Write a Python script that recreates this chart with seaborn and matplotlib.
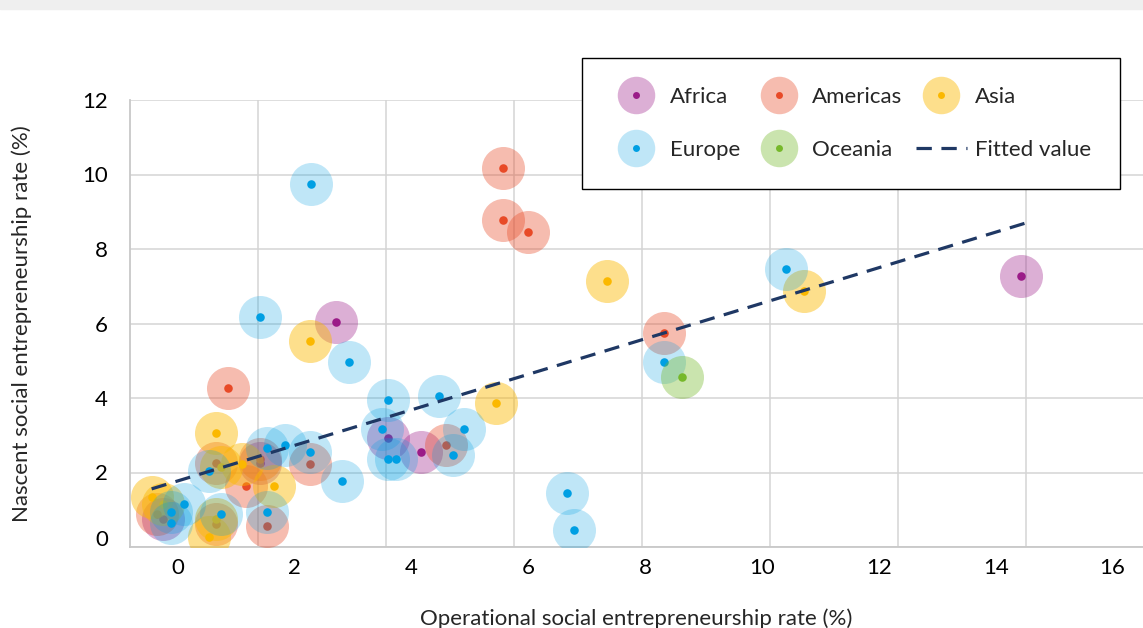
import numpy as np
import pandas as pd
import matplotlib
matplotlib.use("Agg")
import matplotlib.pyplot as plt
import matplotlib.transforms as mtransforms
import seaborn as sns
from matplotlib.lines import Line2D
from matplotlib.legend_handler import HandlerTuple
from matplotlib.patches import Rectangle
from matplotlib.ticker import FixedLocator

# values (operational rate x, nascent rate y)
africa_x = [2.71, 3.60, 4.16, 1.40, -0.26, 14.43]
africa_y = [6.04, 2.93, 2.55, 2.26, 0.75, 7.28]

americas_x = [5.57, 5.57, 5.99, 8.32, 0.86, 4.59, 2.26, 1.40, 0.65, 1.16, 1.52, 0.65, -0.36]
americas_y = [10.17, 8.78, 8.46, 5.74, 4.27, 2.74, 2.23, 2.36, 2.26, 1.64, 0.56, 0.62, 0.89]

asia_x = [7.35, 10.72, 2.26, 5.45, 0.65, 0.74, 1.10, 1.64, 0.53, -0.45, -0.26, 0.65]
asia_y = [7.14, 6.87, 5.53, 3.87, 3.06, 2.15, 2.23, 1.64, 0.27, 1.34, 1.15, 0.75]

europe_x = [2.28, 1.40, 2.93, 10.41, 8.32, 3.60, 4.47, 3.49, 4.90, 3.60, 3.73, 4.71,
            1.52, 1.83, 2.26, 0.53, 2.81, 6.66, 6.78, 1.52, 0.74, -0.12, 0.10, -0.12]
europe_y = [9.74, 6.17, 4.97, 7.46, 4.97, 3.95, 4.05, 3.17, 3.17, 2.36, 2.36, 2.47,
            2.66, 2.74, 2.55, 2.04, 1.77, 1.45, 0.46, 0.94, 0.89, 0.94, 1.15, 0.64]

oceania_x = [8.63]
oceania_y = [4.56]

fit_x = [-0.45, 14.55]
fit_slope = 0.477
fit_intercept = 1.775

regions = ["Africa", "Americas", "Asia", "Europe", "Oceania"]
dot_colors = {"Africa": "#9b1b88", "Americas": "#e84a27", "Asia": "#fbb800",
              "Europe": "#009fe3", "Oceania": "#76b82a"}
halo_alpha = {"Africa": 0.35, "Americas": 0.37, "Asia": 0.45,
              "Europe": 0.25, "Oceania": 0.38}

frames = []
for name, xs, ys in [("Africa", africa_x, africa_y), ("Americas", americas_x, americas_y),
                     ("Asia", asia_x, asia_y), ("Europe", europe_x, europe_y),
                     ("Oceania", oceania_x, oceania_y)]:
    frames.append(pd.DataFrame({"x": xs, "y": ys, "region": name}))
df = pd.concat(frames, ignore_index=True)

sns.set_style("white")
plt.rcParams["font.family"] = ["Lato", "DejaVu Sans"]
FS = 16

fig = plt.figure(figsize=(11.43, 6.28), dpi=100)
ax = fig.add_axes([130 / 1143, 1 - 547 / 628, 1 - 130 / 1143, 447 / 628])
fig.patches.append(Rectangle((0, 1 - 9 / 628), 1, 9 / 628, transform=fig.transFigure,
                             color="#efefef", zorder=0))

for r in regions:
    sub = df[df["region"] == r]
    sns.scatterplot(data=sub, x="x", y="y", color=dot_colors[r], alpha=halo_alpha[r],
                    s=960, linewidth=0, ax=ax, zorder=3, legend=False)
    sns.scatterplot(data=sub, x="x", y="y", color=dot_colors[r], s=38,
                    linewidth=0, ax=ax, zorder=3, legend=False)

fx = np.array(fit_x)
ax.plot(fx, fit_intercept + fit_slope * fx, color="#1f3864", lw=2.3,
        dashes=(4.8, 3.0), zorder=4)

x_min, x_max = -0.82, 16.52
grid_step = 2.19
ax.set_xlim(x_min, x_max)
ax.set_ylim(0, 12)
ax.set_xticks(np.arange(0, 17, 2))
ax.xaxis.set_minor_locator(FixedLocator(np.arange(x_min + grid_step, x_max, grid_step)))
ax.set_yticks(np.arange(0, 13, 2))
ax.grid(False)
ax.grid(True, which="minor", axis="x", color="#d4d4d4", lw=1.1, zorder=0)
ax.grid(True, which="major", axis="y", color="#d4d4d4", lw=1.1, zorder=0)
ax.set_axisbelow(True)
ax.tick_params(axis="both", which="both", length=0, labelsize=FS, colors="black")
ax.tick_params(axis="x", pad=8)
ax.tick_params(axis="y", pad=16)
# the "0" on the y axis sits a little higher in the original
lab0 = ax.get_yticklabels()[0]
lab0.set_transform(lab0.get_transform() + mtransforms.ScaledTranslation(0, 9 / 100, fig.dpi_scale_trans))

for side in ["top", "right"]:
    ax.spines[side].set_visible(False)
for side in ["left", "bottom"]:
    ax.spines[side].set_color("#c8c8c8")
    ax.spines[side].set_linewidth(1.3)

ax.set_xlabel("Operational social entrepreneurship rate (%)", fontsize=FS, labelpad=22)
ax.set_ylabel("Nascent social entrepreneurship rate (%)", fontsize=FS, labelpad=36)

def handle(r):
    halo = Line2D([], [], ls="", marker="o", ms=27, mfc=dot_colors[r], mec="none",
                  alpha=halo_alpha[r])
    dot = Line2D([], [], ls="", marker="o", ms=5, mfc=dot_colors[r], mec="none")
    return (halo, dot)

fit_handle = Line2D([], [], color="#1f3864", lw=2.3, dashes=(4.8, 3.0))
order = ["Africa", "Europe", "Americas", "Oceania", "Asia"]
handles = [handle(r) for r in order] + [fit_handle]
labels = order + ["Fitted value"]
leg = ax.legend(handles, labels, ncol=3, loc="upper left",
                bbox_to_anchor=(0.446, 1.094), fontsize=FS, frameon=True,
                fancybox=False, edgecolor="black", framealpha=1,
                handler_map={tuple: HandlerTuple(ndivide=1, pad=0)},
                handlelength=2.3, handletextpad=0.35, columnspacing=0.6,
                labelspacing=1.5, borderpad=1.3, borderaxespad=0)
leg.get_frame().set_linewidth(1.0)
leg.set_zorder(10)

fig.savefig("out.png", dpi=100)
